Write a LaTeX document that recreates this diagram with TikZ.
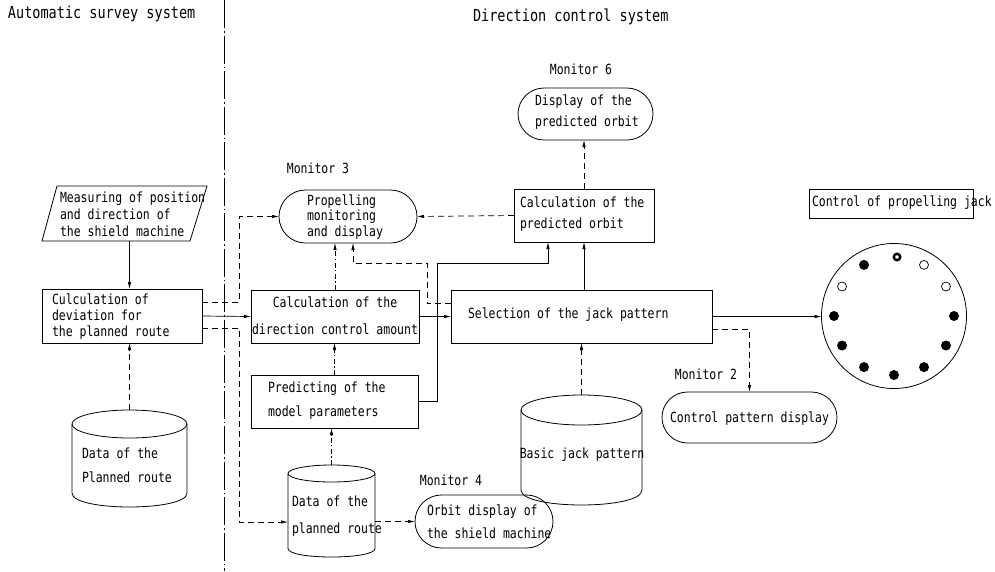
\documentclass[tikz,border=0pt]{standalone}
\usepackage{fontspec}
\usetikzlibrary{arrows.meta,shapes.misc}
\newfontfamily\tw[FakeStretch=0.82]{DejaVu Sans Mono}
\newcommand\tf[1]{\tw\fontsize{14}{#1}\selectfont}
\newcommand\drawcyl[5]{% cx, top y, bottom y, rx, ry
  \draw[line width=0.8pt] (#1,{#2+#5}) ellipse[x radius=#4, y radius=#5];
  \draw[line width=0.8pt] ({#1-#4},{#2+#5}) -- ({#1-#4},{#3-#5})
     .. controls ({#1-#4},{#3-#5+1.333*#5}) and ({#1+#4},{#3-#5+1.333*#5}) .. ({#1+#4},{#3-#5})
     -- ({#1+#4},{#2+#5});
}
\begin{document}
\begin{tikzpicture}[x=1pt,y=-1pt,
  every node/.style={inner sep=0pt, outer sep=0pt},
  frame/.style={draw, line width=0.8pt},
  rbox/.style={frame, rectangle},
  sbox/.style={frame, rounded rectangle},
  ghost/.style={rectangle, draw=none},
  txt/.style={font=\tf{#1}, align=left},
  ttl/.style={font=\tw\fontsize{16.5}{18}\selectfont},
  ar/.style={-{Latex[length=7pt,width=3.5pt]}, line width=0.7pt},
  dsh/.style={ar, dash pattern=on 6pt off 4pt},
  dshdot/.style={ar, dash pattern=on 5pt off 2.5pt on 1.2pt off 2.5pt},
  divider/.style={line width=0.8pt, dash pattern=on 28pt off 3pt on 1.5pt off 3pt}]
\useasboundingbox (0,0) rectangle (995,571);

% titles and divider
\node[ttl, anchor=west] (t1) at (8,14) {Automatic survey system};
\node[ttl, anchor=west] (t2) at (473,17) {Direction control system};
\draw[divider] (224,0) -- (224,571);

% ---------- left: automatic survey system ----------
\node[ghost, minimum width=150pt, minimum height=55pt] (meas) at (124.5,213.5) {};
\draw[line width=0.8pt] (57,186) -- (207,186) -- (190,241) -- (42,241) -- cycle;
\node[txt=17, anchor=west] (meast) at (60,214) {Measuring of position\\and direction of\\the shield machine};

\node[rbox, minimum width=160pt, minimum height=54pt] (culc) at (122,316) {};
\node[txt=16, anchor=west] (culct) at (52,317) {Culculation of\\deviation for\\the planned route};

\node[ghost, minimum width=115pt, minimum height=97pt] (data1) at (129.5,458.5) {};
\drawcyl{129.5}{410}{507}{57.5}{14}
\node[txt=24, anchor=west] (data1t) at (82,465) {Data of the\\Planned route};

% ---------- right: direction control system ----------
\node[txt=16] (m3) at (318,168) {Monitor 3};
\node[sbox, minimum width=138pt, minimum height=53pt] (prop) at (348,216.5) {};
\node[txt=15.5, anchor=west] (propt) at (307,217) {Propelling\\monitoring\\and display};

\node[rbox, minimum width=168pt, minimum height=53pt] (cdir) at (335,316.5) {};
\node[txt=27, align=center] (cdirt) at (335,316) {Calculation of the\\direction control amount};

\node[rbox, minimum width=167pt, minimum height=53pt] (pred) at (334.5,401.5) {};
\node[txt=24, anchor=west] (predt) at (268,401) {Predicting of the\\model parameters};

\node[ghost, minimum width=87pt, minimum height=92pt] (data2) at (331.5,511) {};
\drawcyl{331.5}{465}{557}{43.5}{8.5}
\node[txt=27, anchor=west] (data2t) at (292,516.5) {Data of the\\planned route};

\node[txt=16] (m4) at (451,480) {Monitor 4};
\node[sbox, minimum width=138pt, minimum height=53pt] (orbit) at (484,521.5) {};
\node[txt=23, anchor=west] (orbitt) at (427,521.5) {Orbit display of\\the shield machine};

\node[txt=16] (m6) at (581,69) {Monitor 6};
\node[sbox, minimum width=135pt, minimum height=52pt] (disp) at (585.5,114) {};
\node[txt=21, anchor=west] (dispt) at (535,112.5) {Display of the\\predicted orbit};

\node[rbox, minimum width=140pt, minimum height=53pt] (cpred) at (584,215.5) {};
\node[txt=21, anchor=west] (cpredt) at (520,214.5) {Calculation of the\\predicted orbit};

\node[rbox, minimum width=261pt, minimum height=53pt] (sel) at (581.5,316.5) {};
\node[txt=16, anchor=west] (selt) at (468,315) {Selection of the jack pattern};

\node[ghost, minimum width=121pt, minimum height=110pt] (basic) at (581.5,450) {};
\drawcyl{581.5}{395}{505}{60.5}{15}
\node[txt=16] (basict) at (582,455) {Basic jack pattern};

\node[txt=16] (m2) at (706,374) {Monitor 2};
\node[sbox, minimum width=175pt, minimum height=51pt] (cpd) at (749.5,417.5) {};
\node[txt=16] (cpdt) at (749.5,419) {Control pattern display};

\node[rbox, minimum width=164pt, minimum height=29pt] (ctrl) at (891,203.5) {};
\node[txt=16, anchor=west] (ctrlt) at (812,203) {Control of propelling jack};

\node[frame, circle, minimum size=145pt] (jack) at (894,316) {};
\foreach \a in {120,180,0,210,330,240,300,270}
  \fill ({894+60*cos(\a)},{316-59*sin(\a)}) circle[radius=5pt];
\foreach \a in {60,150,30}
  \draw[line width=0.7pt] ({894+60*cos(\a)},{316-59*sin(\a)}) circle[radius=4.5pt];
\draw[line width=2.4pt] (897,257) circle[radius=3.2pt];

% ---------- connectors ----------
\draw[ar] (meas.south -| data1.north) -- (data1.north |- culc.north);
\draw[dsh] (data1.north) -- (data1.north |- culc.south);
\draw[ar] (culc.east) -- (cdir.west);
\draw[dsh] ([yshift=14pt]culc.east) -- ++(37,0) |- (prop.west);
\draw[dsh] ([yshift=-12pt]culc.east) -- ++(37,0) |- ([yshift=-11pt]data2.west);
\draw[dshdot] (cdir.north) -- (cdir.north |- prop.south);
\draw[dshdot] (pred.north) -- (pred.north |- cdir.south);
\draw[dshdot] (data2.north) -- (data2.north |- pred.south);
\draw[dsh] (data2.east |- orbit.west) -- (orbit.west);
\draw[dsh] (cpred.north) -- (cpred.north |- disp.south);
\draw[dsh] (cpred.west) -- (prop.east);
\draw[ar] (cpred.south |- sel.north) -- (cpred.south);
\draw[ar] (pred.east) -| (437,263) -| ([xshift=-36pt]cpred.south);
\draw[ar] (cdir.east) -- (cdir.east -| sel.west);
\draw[dsh] ([yshift=13pt]sel.west) -| (427,263) -| ([xshift=5pt]prop.south);
\draw[dsh] (basic.north) -- (basic.north |- sel.south);
\draw[ar] (sel.east) -- (sel.east -| jack.west);
\draw[dsh] ([yshift=-12.5pt]sel.east) -| (cpd.north);
\end{tikzpicture}
\end{document}
